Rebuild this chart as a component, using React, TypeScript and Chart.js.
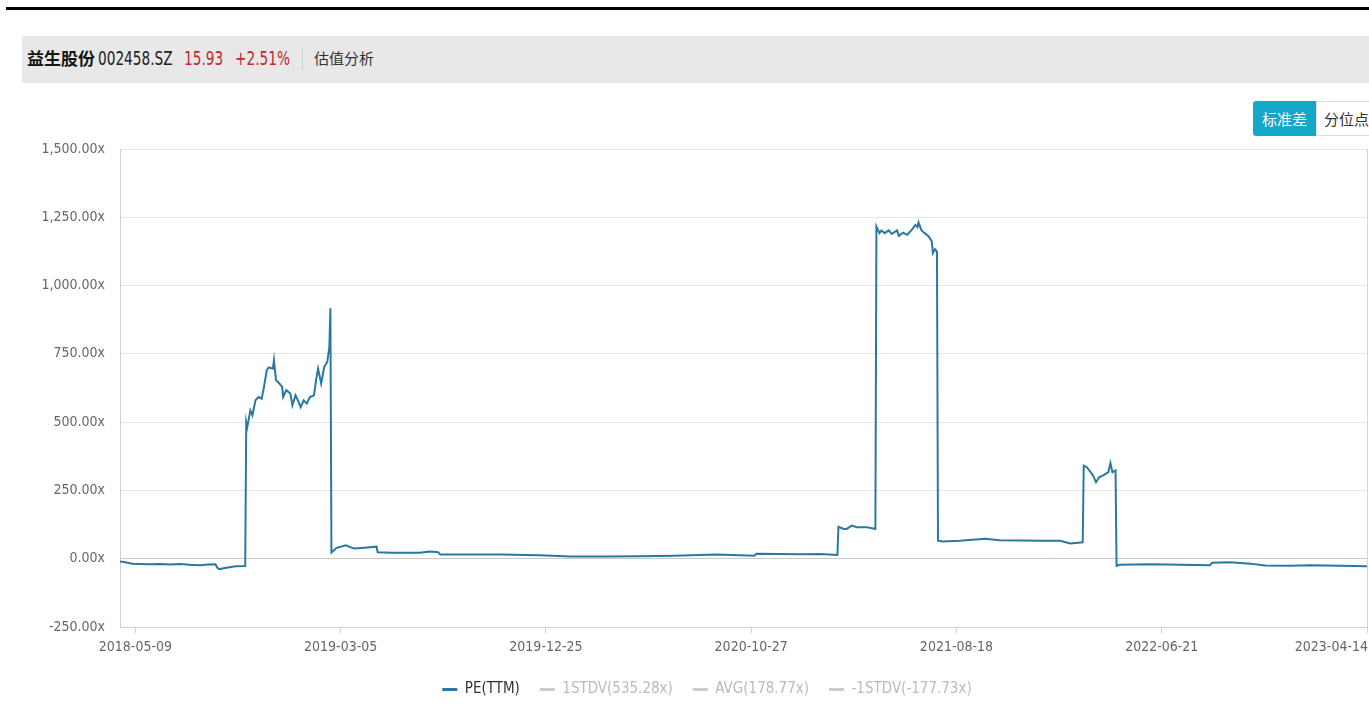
import React, { useEffect, useRef } from "react";
import { Chart, registerables } from "chart.js";

Chart.register(...registerables);

const NARROW = "'DejaVu Sans Condensed', 'Liberation Sans Narrow', sans-serif";
const CJK = "'Noto Sans CJK SC', 'Noto Sans', sans-serif";
const LINE_COLOR = "#2a78a0";

// trading-day index of each tick label
const tickDays = [15, 215, 415, 615, 815, 1015, 1215];
const tickLabels = ["2018-05-09", "2019-03-05", "2019-12-25", "2020-10-27", "2021-08-18", "2022-06-21", "2023-04-14"];

const yTicks = [-250, 0, 250, 500, 750, 1000, 1250, 1500];

// PE(TTM) series: trading-day index and value
const peDays = [
  0, 5, 12, 19, 29, 39, 49, 58, 68, 78, 86, 93, 95, 97, 105, 113, 122,
  123, 124, 127, 129, 132, 135, 138, 140, 143, 145, 149, 150, 152, 154, 158, 159, 162, 166, 168, 171, 174, 176, 179, 182, 185, 189, 191, 193, 196, 199, 202, 204, 205,
  206, 211, 220, 228, 238, 250, 251, 265, 292, 302, 310, 312, 341, 372, 409, 439, 473, 507, 540, 581, 618, 620, 643, 663, 682, 699,
  700, 705, 708, 713, 718, 728, 736,
  737, 740, 742, 745, 749, 752, 757, 759, 763, 767, 771, 775, 777, 778, 781, 784, 788, 791, 792, 794, 796,
  797, 802, 818, 843, 857, 877, 896, 916, 926, 938,
  939, 942, 947, 948, 951, 954, 958, 963, 965, 967, 970,
  971, 974, 1004, 1033, 1062, 1064, 1082, 1101, 1116, 1140, 1160, 1189, 1215,
];
const peValues = [
  -10, -13, -18, -19, -20, -19, -21, -19, -22, -24, -21, -20, -34, -38, -32, -28, -27,
  500, 482, 543, 525, 580, 592, 586, 623, 690, 700, 696, 727, 653, 647, 629, 592, 617, 605, 562, 598, 574, 555, 580, 568, 592, 598, 653, 696, 641, 702, 721, 776, 917,
  23, 40, 49, 37, 40, 44, 24, 22, 22, 26, 24, 15, 15, 15, 13, 8, 8, 9, 11, 15, 11, 18, 17, 16, 17, 14,
  117, 109, 109, 121, 115, 115, 109,
  1216, 1192, 1202, 1192, 1202, 1189, 1202, 1182, 1194, 1186, 1202, 1222, 1214, 1231, 1202, 1192, 1180, 1161, 1119, 1133, 1124,
  66, 63, 66, 73, 68, 67, 66, 66, 56, 60,
  341, 335, 311, 305, 280, 298, 305, 317, 350, 317, 323,
  -26, -22, -20, -22, -24, -15, -13, -18, -25, -26, -24, -26, -28,
];

const STDV_UP = 535.28;
const AVG = 178.77;
const STDV_DOWN = -177.73;
const X_MAX = 1215;

const seriesLabels = ["PE(TTM)", "1STDV(535.28x)", "AVG(178.77x)", "-1STDV(-177.73x)"];

const fmtY = (v: number) =>
  v.toLocaleString("en-US", { minimumFractionDigits: 2, maximumFractionDigits: 2 }) + "x";

const xLabelPlugin = {
  id: "xLabels",
  afterDraw(chart: any) {
    const { ctx, chartArea, scales } = chart;
    const xs = scales.x;
    ctx.save();
    ctx.font = `14px ${NARROW}`;
    ctx.fillStyle = "#666";
    ctx.textBaseline = "middle";
    ctx.textAlign = "left";
    const rightLimit = chartArea.right + 1;
    tickDays.forEach((d, i) => {
      const px = xs.getPixelForValue(d);
      const text = tickLabels[i];
      const w = ctx.measureText(text).width;
      let left = px - w / 2;
      if (left + w > rightLimit) left = rightLimit - w;
      ctx.fillText(text, left, chartArea.bottom + 20);
    });
    ctx.restore();
  },
};

function PEChart() {
  const ref = useRef<HTMLCanvasElement | null>(null);
  useEffect(() => {
    if (!ref.current) return;
    const peData = peDays.map((d, i) => ({ x: d, y: peValues[i] }));
    const flat = (v: number) => [
      { x: 0, y: v },
      { x: X_MAX, y: v },
    ];
    const chart = new Chart(ref.current, {
      type: "line",
      data: {
        datasets: [
          { label: seriesLabels[0], data: peData, borderColor: LINE_COLOR, borderWidth: 2, pointRadius: 0, tension: 0 },
          { label: seriesLabels[1], data: flat(STDV_UP), borderColor: "#ccc", borderWidth: 1, pointRadius: 0, hidden: true },
          { label: seriesLabels[2], data: flat(AVG), borderColor: "#ccc", borderWidth: 1, pointRadius: 0, hidden: true },
          { label: seriesLabels[3], data: flat(STDV_DOWN), borderColor: "#ccc", borderWidth: 1, pointRadius: 0, hidden: true },
        ],
      },
      options: {
        animation: false,
        responsive: true,
        maintainAspectRatio: false,
        layout: { padding: { top: 65, left: 0, right: 0, bottom: 0 } },
        plugins: {
          tooltip: { enabled: false },
          legend: {
            position: "bottom",
            onClick: () => {},
            labels: {
              boxWidth: 15,
              boxHeight: 3,
              padding: 20,
              font: { size: 15, family: NARROW },
              generateLabels: (c: any) =>
                c.data.datasets.map((ds: any, i: number) => ({
                  text: ds.label,
                  fillStyle: i === 0 ? LINE_COLOR : "#cccccc",
                  strokeStyle: i === 0 ? LINE_COLOR : "#cccccc",
                  lineWidth: 0,
                  hidden: false,
                  fontColor: i === 0 ? "#333333" : "#bbbbbb",
                  datasetIndex: i,
                })),
            },
          },
        },
        scales: {
          x: {
            type: "linear",
            min: 0,
            max: X_MAX,
            afterBuildTicks: (scale: any) => {
              scale.ticks = tickDays.map((v) => ({ value: v }));
            },
            afterFit: (scale: any) => {
              scale.height = 35;
            },
            ticks: { display: false },
            grid: { display: true, drawOnChartArea: false, drawTicks: true, tickLength: 6, color: "#d0d0d0" },
            border: { display: true, color: "#d0d0d0" },
          },
          y: {
            type: "linear",
            position: "left",
            min: -250,
            max: 1500,
            afterBuildTicks: (scale: any) => {
              scale.ticks = yTicks.map((v) => ({ value: v }));
            },
            afterFit: (scale: any) => {
              scale.width = 98;
            },
            ticks: {
              padding: 15,
              color: "#666",
              font: { size: 14, family: NARROW },
              callback: (v: any) => fmtY(Number(v)),
            },
            grid: {
              drawTicks: false,
              color: (ctx: any) => (ctx.tick && ctx.tick.value === 0 ? "#c8c8c8" : "#e6e6e6"),
            },
            border: { display: true, color: "#d0d0d0" },
          },
          yRight: {
            type: "linear",
            position: "right",
            min: -250,
            max: 1500,
            afterFit: (scale: any) => {
              scale.width = 25;
            },
            ticks: { display: false },
            grid: { display: false, drawTicks: false },
            border: { display: true, color: "#d4d4d4" },
          },
        },
      },
      plugins: [xLabelPlugin],
    });
    return () => chart.destroy();
  }, []);
  return <canvas ref={ref} />;
}

const headerNarrow = (left: number, color: string, text: string) => (
  <span
    style={{
      position: "absolute",
      left,
      top: 0,
      lineHeight: "44px",
      fontFamily: NARROW,
      fontSize: 19,
      color,
      display: "inline-block",
      transform: "scaleX(0.8)",
      transformOrigin: "left center",
      whiteSpace: "nowrap",
    }}
  >
    {text}
  </span>
);

export default function App() {
  const red = "#c4262e";
  return (
    <div
      style={{
        position: "fixed",
        left: 0,
        top: 0,
        width: 1369,
        height: 712,
        overflow: "hidden",
        background: "#fff",
      }}
    >
      <div style={{ position: "absolute", left: 6, top: 7, width: 1363, height: 3, background: "#000" }} />
      <div style={{ position: "absolute", left: 22, top: 36, width: 1347, height: 47, background: "#e8e8e8" }}>
        <span style={{ position: "absolute", left: 5, top: 0, lineHeight: "44px", fontFamily: CJK, fontWeight: 700, fontSize: 17, color: "#151515" }}>
          益生股份
        </span>
        {headerNarrow(76, "#222", "002458.SZ")}
        {headerNarrow(162, red, "15.93")}
        {headerNarrow(213, red, "+2.51%")}
        <div style={{ position: "absolute", left: 280, top: 11, width: 1, height: 23, background: "#d0d0d0" }} />
        <span style={{ position: "absolute", left: 292, top: 0, lineHeight: "44px", fontFamily: CJK, fontSize: 15, color: "#333" }}>
          估值分析
        </span>
      </div>
      <div
        style={{
          position: "absolute",
          left: 1253,
          top: 101,
          width: 63,
          height: 35,
          background: "#15a7c6",
          borderRadius: "3px 0 0 3px",
          color: "#fff",
          fontFamily: CJK,
          fontSize: 15,
          lineHeight: "35px",
          textAlign: "center",
        }}
      >
        标准差
      </div>
      <div
        style={{
          position: "absolute",
          left: 1316,
          top: 101,
          width: 80,
          height: 35,
          boxSizing: "border-box",
          border: "1px solid #dcdcdc",
          background: "#fff",
          color: "#333",
          fontFamily: CJK,
          fontSize: 15,
          lineHeight: "33px",
          paddingLeft: 7,
        }}
      >
        分位点
      </div>
      <div style={{ position: "absolute", left: 22, top: 84, width: 1370, height: 623 }}>
        <PEChart />
      </div>
    </div>
  );
}
